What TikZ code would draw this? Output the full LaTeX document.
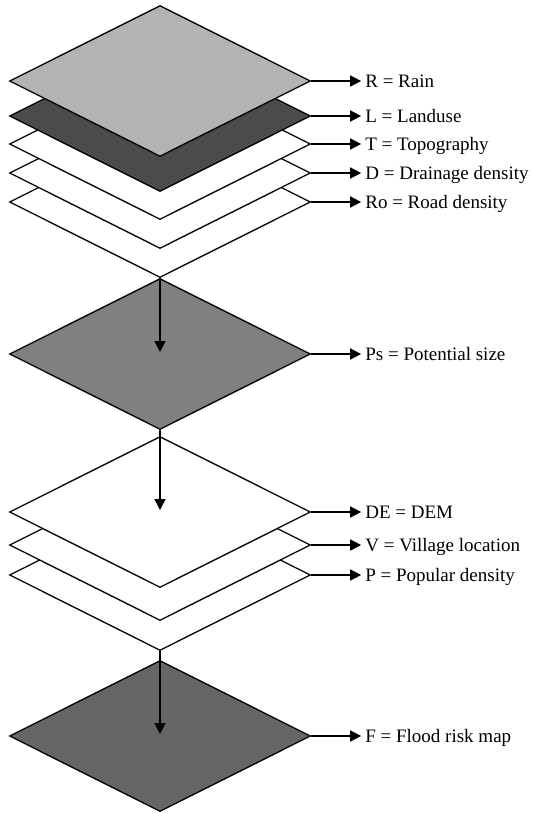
\documentclass[tikz,border=0pt]{standalone}
\usepackage{fontspec}
\setmainfont{Liberation Serif}
\usepackage{tikz}
\usetikzlibrary{arrows.meta,positioning,shapes.geometric}

\definecolor{rainGray}{HTML}{B3B3B3}
\definecolor{landGray}{HTML}{4B4B4B}
\definecolor{sizeGray}{HTML}{808080}
\definecolor{floodGray}{HTML}{666666}

\begin{document}
\begin{tikzpicture}[x=1pt, y=-1pt, >={Triangle[length=11pt,width=11pt]}, node distance=50pt,
	layer/.style={draw, diamond, fill=white, line width=1.3pt, inner sep=0pt, minimum width=301pt, minimum height=151pt},
	lbl/.style={inner xsep=4pt, inner ysep=0pt, text height=12.6pt, text depth=0pt, font=\fontsize{19}{22}\selectfont},
	link/.style={->, line width=1.6pt}]
		\useasboundingbox (0,0) rectangle (535,814);

		% input layers, lowest first
		\node[layer]                  (RO)	at (160,202)	{};
		\node[layer]                  (D)	at (160,173)	{};
		\node[layer]                  (T)	at (160,144)	{};
		\node[layer, fill=landGray]   (L)	at (160,116)	{};
		\node[layer, fill=rainGray]   (R)	at (160,81)	{};

		\node[layer, fill=sizeGray]   (PS)	at (160,354)	{};

		\node[layer]                  (P)	at (160,575)	{};
		\node[layer]                  (V)	at (160,545)	{};
		\node[layer]                  (DE)	at (160,512)	{};

		\node[layer, fill=floodGray]  (F)	at (160,736)	{};

		% labels
		\node[lbl, right=of R]    (Rtxt)	{R = Rain};
		\node[lbl, right=of L]    (Ltxt)	{L = Landuse};
		\node[lbl, right=of T]    (Ttxt)	{T = Topography};
		\node[lbl, right=of D]    (Dtxt)	{D = Drainage density};
		\node[lbl, right=of RO]   (ROtxt)	{Ro = Road density};
		\node[lbl, right=of PS]   (PStxt)	{Ps = Potential size};
		\node[lbl, right=of DE]   (DEtxt)	{DE = DEM};
		\node[lbl, right=of V]    (Vtxt)	{V = Village location};
		\node[lbl, right=of P]    (Ptxt)	{P = Popular density};
		\node[lbl, right=of F]    (Ftxt)	{F = Flood risk map};

		\path[link]	(R)		edge	(Rtxt)
				(L)		edge	(Ltxt)
				(T)		edge	(Ttxt)
				(D)		edge	(Dtxt)
				(RO)	edge	(ROtxt)
				(PS)	edge	(PStxt)
				(DE)	edge	(DEtxt)
				(V)		edge	(Vtxt)
				(P)		edge	(Ptxt)
				(F)		edge	(Ftxt);

		\draw[link, shorten >=2pt]	(RO.south)	--	(PS.center);
		\draw[link, shorten >=2pt]	(PS.south)	--	(DE.center);
		\draw[link, shorten >=2pt]	(P.south)	--	(F.center);
\end{tikzpicture}
\end{document}
